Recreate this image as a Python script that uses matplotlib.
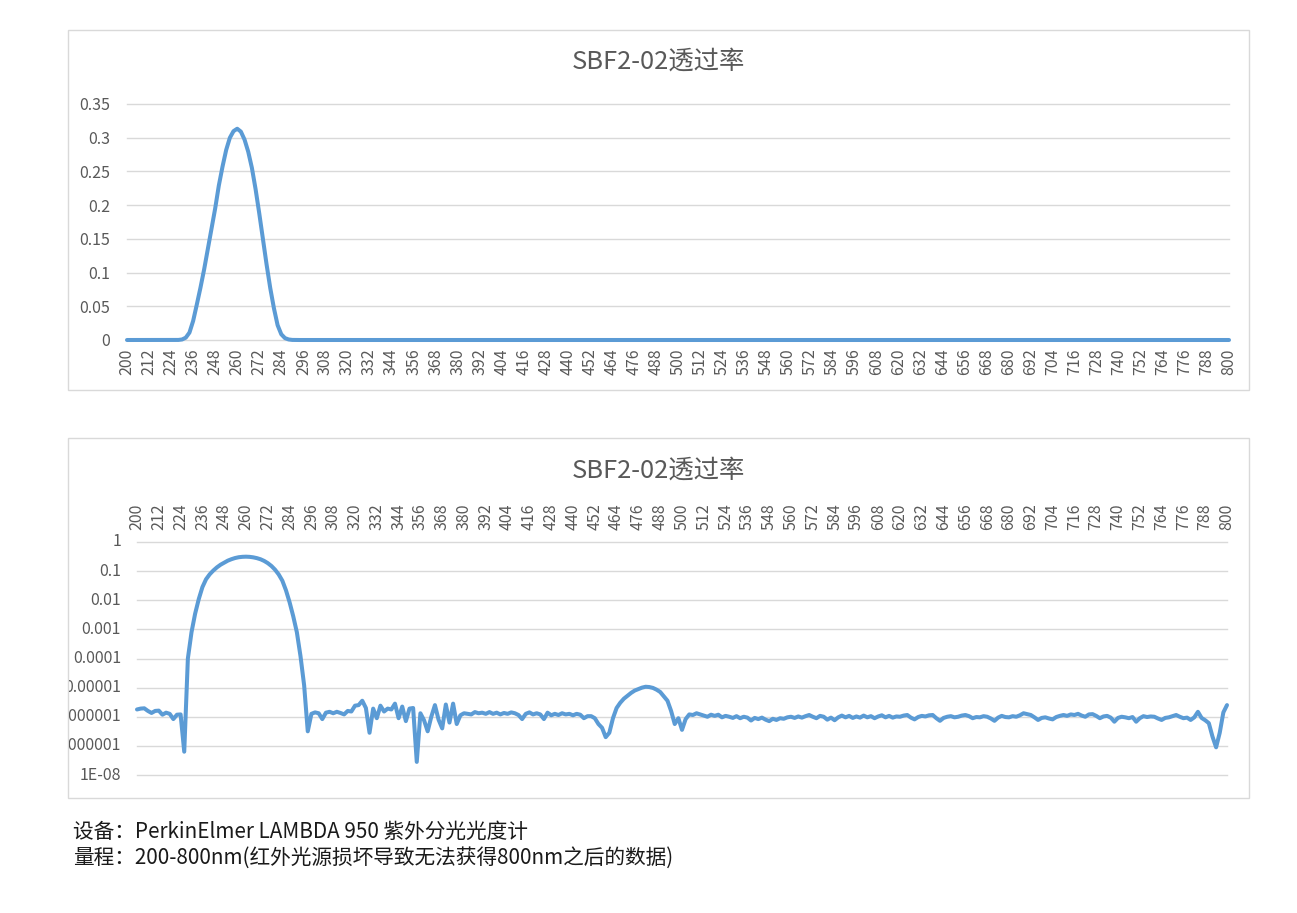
import numpy as np
import matplotlib
matplotlib.use('Agg')
import matplotlib.pyplot as plt
from matplotlib.patches import Rectangle
from matplotlib.ticker import NullLocator
from matplotlib.transforms import Bbox, TransformedBbox, blended_transform_factory

plt.rcParams['font.family'] = ['Noto Sans CJK SC', 'DejaVu Sans']

title = 'SBF2-02透过率'

# wavelength in nm, one reading every 2 nm
wavelength = np.arange(200, 802, 2)

# log10 of transmittance (and the linear one for the peak)
log_t = [
    -5.75, -5.72, -5.71, -5.80, -5.87, -5.80, -5.79, -5.93, -5.86, -5.90,   # 200
    -6.08, -5.93, -5.92, -7.20, -4.00, -3.10, -2.46, -1.96, -1.55, -1.28,   # 220
    -1.11, -0.98, -0.87, -0.78, -0.71, -0.64, -0.59, -0.55, -0.523, -0.509, # 240
    -0.504, -0.51, -0.527, -0.554, -0.593, -0.65, -0.726, -0.824, -0.951, -1.114,  # 260
    -1.328, -1.658, -2.07, -2.55, -3.10, -3.92, -4.92, -6.50, -5.90, -5.85, # 280
    -5.88, -6.08, -5.86, -5.83, -5.88, -5.83, -5.87, -5.92, -5.80, -5.82,   # 300
    -5.62, -5.60, -5.45, -5.70, -6.55, -5.72, -6.05, -5.62, -5.82, -5.72,   # 320
    -5.75, -5.55, -6.05, -5.65, -6.15, -5.72, -5.70, -7.55, -5.88, -6.12,   # 340
    -6.50, -6.00, -5.60, -6.10, -6.40, -5.58, -6.20, -5.55, -6.25, -5.95,   # 360
    -5.88, -5.90, -5.92, -5.84, -5.88, -5.86, -5.90, -5.84, -5.90, -5.86,   # 380
    -5.92, -5.87, -5.90, -5.85, -5.88, -5.94, -6.08, -5.90, -5.85, -5.92,   # 400
    -5.88, -5.92, -6.08, -5.86, -5.95, -5.90, -5.94, -5.88, -5.92, -5.90,   # 420
    -5.95, -5.90, -5.93, -6.05, -5.98, -5.98, -6.05, -6.25, -6.38, -6.70,   # 440
    -6.55, -6.05, -5.70, -5.52, -5.38, -5.28, -5.18, -5.10, -5.05, -5.00,   # 460
    -4.97, -4.98, -5.01, -5.07, -5.15, -5.30, -5.45, -5.80, -6.25, -6.05,   # 480
    -6.45, -6.08, -5.92, -5.94, -5.88, -5.92, -5.96, -6.00, -5.93, -5.97,   # 500
    -5.93, -6.02, -5.97, -6.00, -6.04, -5.98, -6.05, -6.00, -6.03, -6.13,   # 520
    -6.04, -6.08, -6.03, -6.10, -6.15, -6.07, -6.11, -6.05, -6.07, -6.02,   # 540
    -6.00, -6.04, -5.99, -6.03, -5.98, -5.94, -6.00, -6.05, -5.97, -6.00,   # 560
    -6.10, -6.03, -6.12, -6.02, -5.96, -6.02, -5.97, -6.04, -5.99, -6.03,   # 580
    -5.96, -6.02, -5.98, -6.05, -5.99, -5.95, -6.02, -5.97, -6.03, -5.99,   # 600
    -6.00, -5.96, -5.94, -6.03, -6.09, -6.01, -5.97, -5.99, -5.95, -5.94,   # 620
    -6.05, -6.14, -6.04, -6.00, -5.98, -6.02, -6.00, -5.96, -5.94, -5.98,   # 640
    -6.05, -6.01, -6.02, -5.98, -6.00, -6.06, -6.14, -6.03, -5.97, -6.01,   # 660
    -6.02, -5.98, -6.00, -5.95, -5.88, -5.91, -5.94, -6.02, -6.11, -6.04,   # 680
    -6.02, -6.06, -6.09, -6.01, -5.97, -5.94, -5.97, -5.92, -5.94, -5.90,   # 700
    -5.96, -6.00, -5.92, -5.91, -5.97, -6.05, -5.99, -5.97, -6.03, -6.17,   # 720
    -6.04, -6.00, -6.02, -6.05, -6.01, -6.17, -6.05, -5.98, -6.01, -5.99,   # 740
    -6.00, -6.06, -6.11, -6.04, -6.02, -5.98, -5.94, -6.00, -6.05, -6.03,   # 760
    -6.11, -6.02, -5.83, -6.04, -6.12, -6.22, -6.68, -7.05, -6.55, -5.85,   # 780
    -5.60,                                                                  # 800
]

x_ticks = list(range(200, 801, 12))
lin_ticks = [0, 0.05, 0.1, 0.15, 0.2, 0.25, 0.3, 0.35]
lin_labels = ['0', '0.05', '0.1', '0.15', '0.2', '0.25', '0.3', '0.35']
log_ticks = [1, 0.1, 0.01, 0.001, 1e-4, 1e-5, 1e-6, 1e-7, 1e-8]
log_labels = ['1', '0.1', '0.01', '0.001', '0.0001', '0.00001', '0.000001',
              '0.0000001', '1E-08']
notes = ['设备：PerkinElmer LAMBDA 950 紫外分光光度计',
         '量程：200-800nm(红外光源损坏导致无法获得800nm之后的数据)']

trans = 10 ** np.array(log_t)

W, H = 1297, 913
line_c = '#5b9bd5'
grid_c = '#d9d9d9'
text_c = '#595959'
tick_fs = 11.5


def fx(px):
    return px / W


def fy(py):
    return 1 - py / H


fig = plt.figure(figsize=(W / 100, H / 100), dpi=100)

# chart area frames
for top in (30, 438):
    fig.add_artist(Rectangle((fx(68), fy(top + 360)), fx(1181), 360 / H,
                             transform=fig.transFigure, fill=False,
                             edgecolor=grid_c, lw=1.0))

# --- linear chart ---
ax1 = fig.add_axes([fx(127), fy(340), fx(1229 - 127), (340 - 104) / H])
for v in lin_ticks:
    ax1.axhline(v, color=grid_c, lw=1.0, clip_on=False, zorder=0)
ax1.plot(wavelength, trans, color=line_c, lw=2.9, clip_on=False,
         solid_joinstyle='round', solid_capstyle='round')
ax1.set_xlim(200, 800)
ax1.set_ylim(0, 0.35)
ax1.set_yticks(lin_ticks, lin_labels)
ax1.set_xticks(x_ticks, [str(v) for v in x_ticks], rotation=90)
ax1.tick_params(length=0, colors=text_c, labelsize=tick_fs)
ax1.tick_params(axis='x', pad=6)
ax1.tick_params(axis='y', pad=12)
for s in ax1.spines.values():
    s.set_visible(False)

fig.text(fx(658), fy(62), title, ha='center', va='center', fontsize=18.3, color=text_c)

# --- log chart ---
ax2 = fig.add_axes([fx(137), fy(775), fx(1227 - 137), (775 - 542) / H])
ax2.set_yscale('log')
for v in log_ticks:
    ax2.axhline(v, color=grid_c, lw=1.0, clip_on=False, zorder=0)
ax2.plot(wavelength, trans, color=line_c, lw=2.9, clip_on=False,
         solid_joinstyle='round', solid_capstyle='round')
ax2.set_xlim(200, 800)
ax2.set_ylim(1e-8, 1)
ax2.xaxis.tick_top()
ax2.set_xticks(x_ticks, [str(v) for v in x_ticks], rotation=90)
ax2.set_yticks([])
ax2.yaxis.set_minor_locator(NullLocator())
ax2.tick_params(length=0, colors=text_c, labelsize=tick_fs, which='both')
ax2.tick_params(axis='x', pad=9)
for s in ax2.spines.values():
    s.set_visible(False)

# y labels drawn by hand so the long ones get cut at the chart frame like the original
clip = TransformedBbox(Bbox.from_extents(fx(69), 0, 1, 1), fig.transFigure)
tr = blended_transform_factory(fig.transFigure, ax2.transData)
for v, s in zip(log_ticks, log_labels):
    t = fig.text(fx(121), v, s, transform=tr, ha='right', va='center',
                 fontsize=tick_fs, color=text_c)
    t.set_clip_box(clip)
    t.set_clip_on(True)

fig.text(fx(658), fy(471), title, ha='center', va='center', fontsize=18.3, color=text_c)

# notes under the charts
fig.text(fx(73), fy(832), notes[0], ha='left', va='center', fontsize=14.9, color='#1a1a1a')
fig.text(fx(73), fy(858), notes[1], ha='left', va='center', fontsize=14.9, color='#1a1a1a')

fig.savefig('out.png', dpi=100, facecolor='white')
